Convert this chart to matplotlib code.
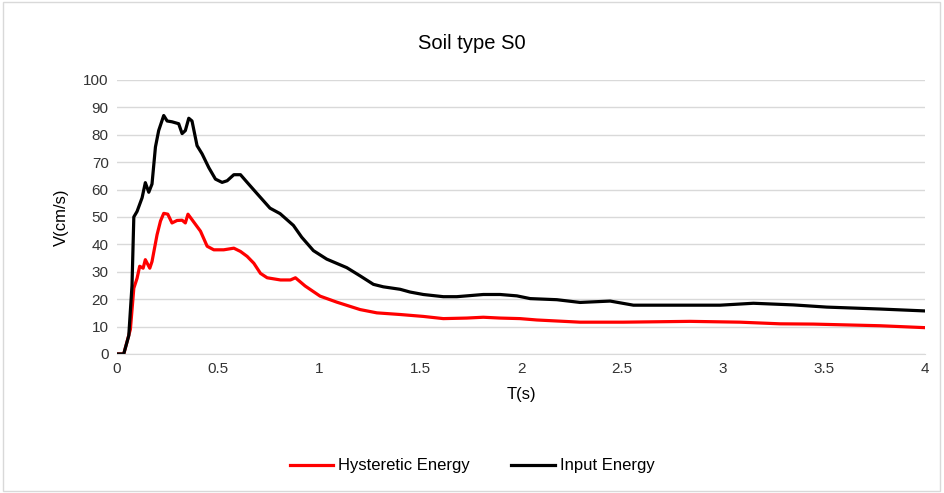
import matplotlib
matplotlib.use("Agg")
import matplotlib.pyplot as plt
from matplotlib.patches import Rectangle

plt.rcParams['font.family'] = ['Liberation Sans', 'DejaVu Sans']

# Input Energy (black)
t_input = [0, 0.033, 0.058, 0.074, 0.083, 0.099, 0.124, 0.14, 0.157, 0.173, 0.19, 0.206,
           0.231, 0.248, 0.272, 0.305, 0.322, 0.338, 0.355, 0.371, 0.396, 0.421, 0.454,
           0.487, 0.52, 0.545, 0.578, 0.611, 0.644, 0.693, 0.757, 0.807, 0.873, 0.914,
           0.972, 1.038, 1.137, 1.203, 1.269, 1.318, 1.401, 1.45, 1.516, 1.615, 1.682,
           1.748, 1.813, 1.896, 1.979, 2.045, 2.177, 2.292, 2.441, 2.556, 2.787, 2.985,
           3.15, 3.348, 3.513, 3.777, 4.0]
v_input = [0, 0, 6.7, 25, 50, 52, 57, 62.5, 59, 62, 75.5, 81.5,
           87, 85, 84.7, 84, 80.4, 81.5, 86, 85, 76, 73, 68,
           63.8, 62.6, 63.2, 65.4, 65.4, 62.6, 58.5, 53.2, 51.2, 46.9, 42.6,
           37.7, 34.6, 31.5, 28.5, 25.4, 24.5, 23.6, 22.6, 21.7, 20.9, 20.9,
           21.3, 21.7, 21.7, 21.2, 20.2, 19.8, 18.8, 19.3, 17.8, 17.8, 17.8,
           18.5, 17.9, 17.1, 16.4, 15.7]

# Hysteretic Energy (red)
t_hyst = [0, 0.033, 0.066, 0.083, 0.099, 0.112, 0.129, 0.14, 0.162, 0.173, 0.198, 0.215,
          0.231, 0.251, 0.272, 0.297, 0.322, 0.338, 0.351, 0.371, 0.413, 0.446, 0.479,
          0.528, 0.578, 0.611, 0.644, 0.677, 0.71, 0.743, 0.809, 0.858, 0.883, 0.931,
          1.005, 1.088, 1.203, 1.286, 1.401, 1.516, 1.615, 1.731, 1.813, 1.896, 1.995,
          2.078, 2.292, 2.506, 2.837, 3.084, 3.282, 3.447, 3.777, 4.0]
v_hyst = [0, 0, 9, 24, 27.6, 32, 31.3, 34.4, 31.3, 33.7, 43.5, 48.5,
          51.3, 51, 47.8, 48.7, 48.8, 47.8, 51, 49, 44.8, 39.3, 38,
          38, 38.6, 37.4, 35.6, 33.1, 29.4, 27.8, 27, 27, 27.8, 24.8,
          21.1, 18.9, 16.2, 15, 14.4, 13.7, 12.9, 13.1, 13.4, 13.1, 12.9,
          12.4, 11.6, 11.6, 11.9, 11.6, 11.0, 10.9, 10.3, 9.6]

fig = plt.figure(figsize=(9.44, 4.93), dpi=100)
fig.patches.append(Rectangle((0.003, 0.005), 0.993, 0.99, transform=fig.transFigure,
                             fill=False, edgecolor='#d9d9d9', linewidth=1))
ax = fig.add_axes([0.124, 0.282, 0.856, 0.556])

ax.plot(t_hyst, v_hyst, color='#ff0000', linewidth=2.3, label='Hysteretic Energy')
ax.plot(t_input, v_input, color='black', linewidth=2.3, label='Input Energy')

ax.set_xlim(0, 4)
ax.set_ylim(0, 100)
ax.set_xticks([0, 0.5, 1, 1.5, 2, 2.5, 3, 3.5, 4])
ax.set_xticklabels(['0', '0.5', '1', '1.5', '2', '2.5', '3', '3.5', '4'])
ax.set_yticks(range(0, 101, 10))
ax.grid(axis='y', color='#d9d9d9', linewidth=1)
ax.set_axisbelow(True)
for s in ['top', 'right', 'left']:
    ax.spines[s].set_visible(False)
ax.spines['bottom'].set_color('#d9d9d9')
ax.tick_params(length=0, labelsize=11, colors='#333333', pad=6)

fig.text(0.5, 0.912, 'Soil type S0', fontsize=14.5, ha='center', va='center')
ax.set_xlabel('T(s)', fontsize=12, labelpad=8)
ax.set_ylabel('V(cm/s)', fontsize=12, labelpad=10)

fig.legend(loc='center', bbox_to_anchor=(0.5, 0.055), ncol=2, frameon=False,
           fontsize=12, handlelength=2.6, columnspacing=2.5, handletextpad=0.3)

plt.savefig('out.png', dpi=100)
